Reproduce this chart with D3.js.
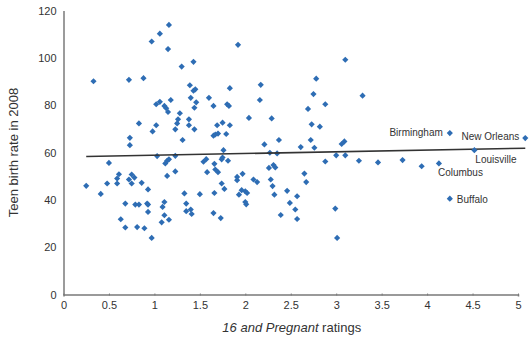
<!DOCTYPE html>
<html>
<head>
<meta charset="utf-8">
<script src="https://cdn.jsdelivr.net/npm/d3@7"></script>
<style>
  body { margin: 0; background: #fff; }
  svg { display: block; font-family: "Liberation Sans", Arial, sans-serif; }
</style>
</head>
<body>
<div id="chart"></div>
<script>
// ratings (x) and teen birth rate (y) per city
const ratings = [
  0.33, 0.72, 0.88, 0.97, 1.06, 1.16, 1.15, 1.30, 1.43, 1.39, 1.43, 1.45, 1.40, 1.46, 1.44, 1.60,
  1.65, 1.80, 1.82, 1.83, 1.02, 1.06, 1.11, 1.13, 1.18, 1.15, 1.28, 1.26, 1.25, 1.23, 1.38, 1.38,
  1.44, 0.83, 1.02, 0.98, 0.73, 0.73, 1.31, 1.69, 1.75, 1.65, 1.67, 1.70, 1.79, 1.83, 1.76, 0.50,
  0.61, 0.59, 0.59, 0.25, 0.41, 0.48, 0.75, 0.78, 0.72, 0.75, 0.86, 0.93, 0.68, 0.79, 0.83, 0.92,
  0.93, 0.93, 0.63, 0.68, 0.81, 0.89, 0.97, 1.03, 1.12, 1.14, 1.16, 1.23, 1.14, 1.23, 1.11, 1.09,
  1.11, 1.16, 1.08, 1.33, 1.35, 1.35, 1.40, 1.41, 1.50, 1.54, 1.57, 1.58, 1.66, 1.67, 1.70, 1.74,
  1.75, 1.81, 1.74, 1.77, 1.66, 1.65, 1.73, 1.92, 3.10, 2.17, 2.78, 3.29, 2.75, 2.16, 2.69, 2.88,
  2.04, 2.29, 2.73, 2.82, 2.21, 2.37, 2.61, 2.72, 2.76, 3.06, 3.09, 2.27, 2.35, 2.88, 3.00, 3.10,
  3.25, 2.26, 2.31, 2.33, 2.65, 2.67, 1.97, 1.91, 1.91, 2.09, 2.13, 2.28, 2.30, 2.32, 2.46, 2.57,
  2.49, 2.55, 2.39, 2.57, 1.93, 1.96, 2.00, 2.02, 2.00, 2.01, 2.99, 3.01, 3.46, 3.73, 3.94
];
const birthRates = [
  90.1, 90.7, 91.4, 106.9, 110.2, 113.9, 103.7, 96.3, 98.3, 88.4, 86.1, 86.7, 83.1, 81.2, 78.9, 83.1,
  79.7, 80.4, 79.7, 87.2, 80.4, 81.4, 79.7, 78.7, 82.2, 77.1, 76.6, 74.0, 72.3, 69.8, 74.0, 71.5,
  69.8, 72.3, 71.5, 68.9, 66.2, 63.1, 65.3, 71.5, 72.6, 67.1, 67.6, 68.0, 67.8, 71.5, 61.0, 55.6,
  50.8, 49.0, 46.9, 45.9, 42.5, 46.9, 50.7, 49.4, 48.6, 46.9, 47.2, 44.4, 38.4, 38.0, 38.0, 38.4,
  38.0, 34.9, 31.8, 28.3, 28.5, 28.0, 23.9, 58.5, 55.4, 56.5, 57.1, 58.6, 50.1, 52.0, 39.1, 37.0,
  33.5, 31.6, 30.5, 42.7, 38.4, 35.2, 35.9, 34.0, 42.4, 56.1, 57.2, 51.7, 55.2, 52.8, 51.7, 57.1,
  57.9, 56.5, 46.9, 44.6, 42.9, 34.4, 32.3, 105.5, 99.2, 88.6, 91.2, 84.0, 84.7, 82.2, 78.4, 80.4,
  74.6, 74.4, 71.9, 70.9, 63.4, 65.3, 62.3, 65.3, 62.0, 63.6, 64.7, 59.9, 59.6, 56.2, 58.8, 58.8,
  56.5, 53.5, 54.7, 53.7, 51.1, 47.5, 51.0, 49.7, 48.3, 48.6, 47.5, 48.6, 45.8, 42.2, 43.8, 41.5,
  38.7, 35.9, 33.6, 31.9, 42.2, 44.1, 43.6, 42.9, 39.1, 38.1, 36.3, 23.9, 55.8, 56.8, 54.2
];

// named cities
const cityNames = ["Birmingham", "New Orleans", "Louisville", "Columbus", "Buffalo"];
const cityRatings = [4.25, 5.08, 4.52, 4.13, 4.25];
const cityRates = [68.2, 66.1, 61.0, 55.4, 40.5];

// fitted trend line ends
const trendX = [0.25, 5.08];
const trendY = [58.3, 61.8];

const xTicks = [0, 0.5, 1, 1.5, 2, 2.5, 3, 3.5, 4, 4.5, 5];
const yTicks = [0, 20, 40, 60, 80, 100, 120];

const width = 530, height = 339;
const markColor = "#2e6db4";
const axisColor = "#7a7a7a";

const svg = d3.select("#chart").append("svg")
  .attr("width", width)
  .attr("height", height);

const x = d3.scaleLinear().domain([0, 5]).range([63.5, 518]);
const y = d3.scaleLinear().domain([0, 120]).range([294.5, 10.5]);

// axes
const xAxis = svg.append("g")
  .attr("transform", `translate(0,${y(0)})`)
  .call(d3.axisBottom(x).tickValues(xTicks).tickSize(2).tickPadding(5)
    .tickFormat(d => d3.format("")(d)));
xAxis.select(".domain").attr("stroke", axisColor).attr("stroke-width", 1.5);
xAxis.selectAll(".tick line").attr("stroke", axisColor).attr("y1", -1).attr("y2", 1);
xAxis.selectAll(".tick text").attr("fill", "#333").attr("font-size", 11);

const yAxis = svg.append("g")
  .attr("transform", `translate(${x(0)},0)`)
  .call(d3.axisLeft(y).tickValues(yTicks).tickSize(0).tickPadding(7));
yAxis.select(".domain").attr("stroke", axisColor).attr("stroke-width", 1.5);
yAxis.selectAll(".tick text").attr("fill", "#333").attr("font-size", 11);

// axis titles
svg.append("text")
  .attr("transform", `translate(18,${(y(0) + y(120)) / 2}) rotate(-90)`)
  .attr("text-anchor", "middle")
  .attr("fill", "#333")
  .attr("font-size", 13)
  .text("Teen birth rate in 2008");

const xTitle = svg.append("text")
  .attr("x", (x(0) + x(5)) / 2 + 1)
  .attr("y", 332)
  .attr("text-anchor", "middle")
  .attr("fill", "#333")
  .attr("font-size", 13);
xTitle.append("tspan").attr("font-style", "italic").text("16 and Pregnant");
xTitle.append("tspan").text(" ratings");

// points
const sym = d3.symbol().type(d3.symbolSquare).size(19);
svg.append("g")
  .selectAll("path")
  .data(ratings.map((r, i) => ({ r, b: birthRates[i] })))
  .join("path")
  .attr("d", sym)
  .attr("transform", d => `translate(${x(d.r)},${y(d.b)}) rotate(45)`)
  .attr("fill", markColor);

// trend line
svg.append("line")
  .attr("x1", x(trendX[0])).attr("y1", y(trendY[0]))
  .attr("x2", x(trendX[1])).attr("y2", y(trendY[1]))
  .attr("stroke", "#333")
  .attr("stroke-width", 1.6);

// named cities
const cities = cityNames.map((n, i) => ({ n, r: cityRatings[i], b: cityRates[i] }));
svg.append("g")
  .selectAll("path")
  .data(cities)
  .join("path")
  .attr("d", sym)
  .attr("transform", d => `translate(${x(d.r)},${y(d.b)}) rotate(45)`)
  .attr("fill", markColor);

const labelPos = {
  "Birmingham": { dx: -7, dy: 3, anchor: "end" },
  "New Orleans": { dx: -6, dy: 2, anchor: "end" },
  "Louisville": { dx: 1, dy: 13, anchor: "start" },
  "Columbus": { dx: -1, dy: 13, anchor: "start" },
  "Buffalo": { dx: 7, dy: 4, anchor: "start" }
};
svg.append("g")
  .selectAll("text")
  .data(cities)
  .join("text")
  .attr("x", d => x(d.r) + labelPos[d.n].dx)
  .attr("y", d => y(d.b) + labelPos[d.n].dy)
  .attr("text-anchor", d => labelPos[d.n].anchor)
  .attr("fill", "#333")
  .attr("font-size", 10)
  .text(d => d.n);
</script>
</body>
</html>
